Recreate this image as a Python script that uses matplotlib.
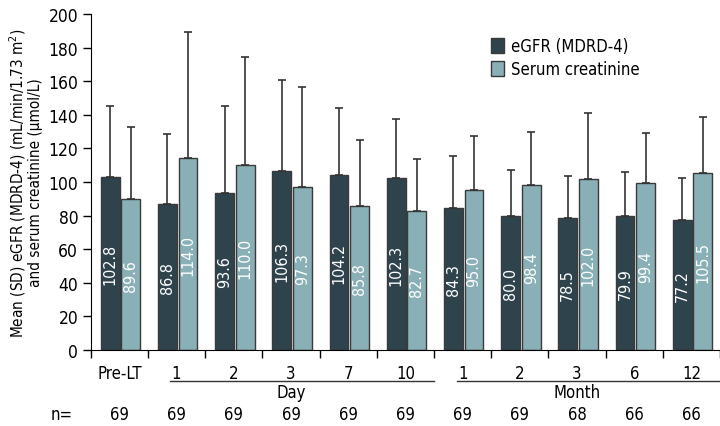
import matplotlib
matplotlib.use('Agg')
import matplotlib.pyplot as plt
import matplotlib.transforms as mtransforms
import numpy as np

plt.rcParams['font.family'] = ['DejaVu Sans']
plt.rcParams['font.stretch'] = 'condensed'

# Data
groups = ['Pre-LT', '1', '2', '3', '7', '10', '1', '2', '3', '6', '12']
n_counts = [69, 69, 69, 69, 69, 69, 69, 69, 68, 66, 66]
egfr_mean = [102.8, 86.8, 93.6, 106.3, 104.2, 102.3, 84.3, 80.0, 78.5, 79.9, 77.2]
egfr_sd = [42.6, 42.0, 51.8, 54.6, 39.8, 35.4, 31.4, 27.3, 25.1, 26.1, 25.2]
creat_mean = [89.6, 114.0, 110.0, 97.3, 85.8, 82.7, 95.0, 98.4, 102.0, 99.4, 105.5]
creat_sd = [43.3, 75.3, 64.4, 59.4, 39.4, 31.2, 32.4, 31.5, 39.3, 29.8, 33.0]

dark = '#2f434d'
light = '#89b0b6'
edge = '#3a3a3a'

fig = plt.figure(figsize=(7.2, 4.27), dpi=100)
ax = fig.add_axes([0.126, 0.178, 0.874, 0.787])

x = np.arange(len(groups))
w = 0.33
zeros = np.zeros(len(groups))
ax.bar(x - 0.16, egfr_mean, w, color=dark, edgecolor=edge, linewidth=1,
       yerr=[zeros, egfr_sd], error_kw=dict(ecolor='#333333', elinewidth=1.2, capsize=2.8, capthick=1.2),
       label='eGFR (MDRD-4)')
ax.bar(x + 0.2, creat_mean, w, color=light, edgecolor=edge, linewidth=1,
       yerr=[zeros, creat_sd], error_kw=dict(ecolor='#333333', elinewidth=1.2, capsize=2.8, capthick=1.2),
       label='Serum creatinine')

# Values inside the bars, centred at half height
for i in range(len(groups)):
    ax.text(x[i] - 0.16, egfr_mean[i] / 2, f'{egfr_mean[i]:.1f}', rotation=90, ha='center', va='center',
            color='white', fontsize=11.5)
    ax.text(x[i] + 0.2, creat_mean[i] / 2, f'{creat_mean[i]:.1f}', rotation=90, ha='center', va='center',
            color='white', fontsize=11.5)

ax.set_ylim(0, 200)
ax.set_yticks(np.arange(0, 201, 20))
ax.set_xlim(-0.5, 10.35)
ax.set_xticks(np.arange(-0.5, 10.6, 1))
ax.set_xticklabels([])
ax.set_xticks(x, minor=True)
ax.set_xticklabels(groups, minor=True)
ax.tick_params(axis='x', which='minor', length=0, pad=10, labelsize=12)
ax.tick_params(axis='x', which='major', length=6, width=1, direction='out')
ax.tick_params(axis='y', length=6, width=1, labelsize=12.5, pad=3)
for s in ['top', 'right']:
    ax.spines[s].set_visible(False)

ax.set_ylabel('Mean (SD) eGFR (MDRD-4) (mL/min/1.73 m$^2$)\nand serum creatinine (µmol/L)',
              fontsize=11, labelpad=4, linespacing=1.0)

# Day / Month brackets
trans = mtransforms.blended_transform_factory(ax.transData, ax.transAxes)
ax.plot([0.88, 5.5], [-0.092, -0.092], transform=trans, color='#333333', lw=1, clip_on=False)
ax.plot([5.9, 10.6], [-0.092, -0.092], transform=trans, color='#333333', lw=1, clip_on=False)
ax.text(3, -0.125, 'Day', transform=trans, ha='center', va='center', fontsize=12)
ax.text(8, -0.125, 'Month', transform=trans, ha='center', va='center', fontsize=12)

# n row
for i in range(len(groups)):
    ax.text(x[i], -0.19, str(n_counts[i]), transform=trans, ha='center', va='center', fontsize=12)
fig.text(62 / 720, 1 - 415 / 427, 'n=', ha='center', va='center', fontsize=12)

ax.legend(loc='upper left', bbox_to_anchor=(0.623, 0.955), frameon=False, fontsize=12,
          handlelength=0.8, handleheight=1.0, handletextpad=0.4, labelspacing=0.3, borderpad=0)

fig.savefig('out.png', dpi=100)
